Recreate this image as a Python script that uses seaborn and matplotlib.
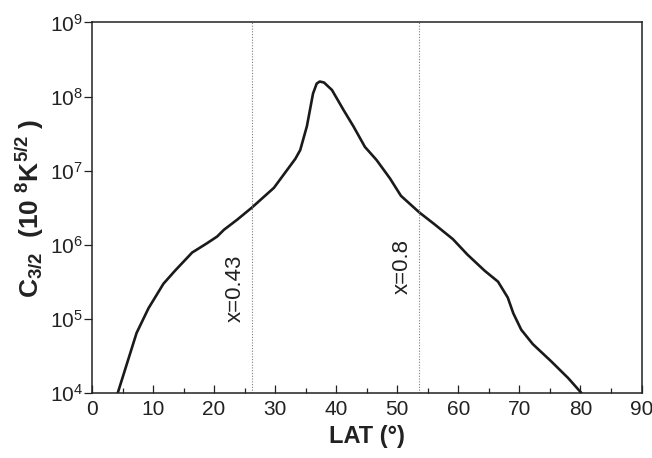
import matplotlib
matplotlib.use("Agg")
import matplotlib.pyplot as plt
import matplotlib.ticker as mticker
import seaborn as sns

# Latitude (deg) and C_{3/2} coefficient along the profile
lat = [4.2, 7.3, 9.25, 11.7, 13.6, 16.4, 18.8, 20.5, 21.6, 23.8, 26.2, 29.8,
       31.4, 33.3, 34.1, 35.2, 36.2, 36.8, 37.3, 38.0, 39.3, 41.2, 42.8, 44.7,
       46.6, 48.8, 50.6, 53.6, 56.1, 59.1, 61.5, 64.3, 66.5, 68.1, 69.0, 70.3,
       72.2, 75.2, 78.0, 80.2]
c32 = [1.0e4, 6.5e4, 1.4e5, 3.0e5, 4.5e5, 7.9e5, 1.05e6, 1.3e6, 1.6e6, 2.2e6,
       3.2e6, 5.9e6, 8.9e6, 1.45e7, 1.9e7, 4.0e7, 1.1e8, 1.5e8, 1.6e8, 1.55e8,
       1.23e8, 6.6e7, 4.0e7, 2.1e7, 1.4e7, 7.9e6, 4.6e6, 2.75e6, 1.9e6, 1.2e6,
       7.4e5, 4.5e5, 3.2e5, 1.95e5, 1.2e5, 7.2e4, 4.6e4, 2.7e4, 1.6e4, 1.0e4]

# Reference lines and their labels
ref_x = [26.2, 53.5]
ref_labels = ["x=0.43", "x=0.8"]
ref_label_y = [2.6e5, 5.1e5]

xticks = [0, 10, 20, 30, 40, 50, 60, 70, 80, 90]

sns.set_style("ticks")
plt.rcParams["font.family"] = ["Liberation Sans", "DejaVu Sans"]
plt.rcParams["mathtext.fontset"] = "custom"
plt.rcParams["mathtext.rm"] = "Liberation Sans"
plt.rcParams["mathtext.it"] = "Liberation Sans:italic"
plt.rcParams["mathtext.bf"] = "Liberation Sans:bold"

ink = "#222222"

fig = plt.figure(figsize=(6.52, 4.58), dpi=100)
ax = fig.add_axes([0.1411, 0.1413, 0.8428, 0.8096])
ax.set_yscale("log")

sns.lineplot(x=lat, y=c32, ax=ax, color="#1a1a1a", linewidth=1.9)
for ln in ax.get_lines():
    ln.set_solid_joinstyle("round")
    ln.set_solid_capstyle("round")

for xv, lab, ly in zip(ref_x, ref_labels, ref_label_y):
    ax.axvline(xv, color="#808080", linestyle=(0, (1, 1.5)), linewidth=0.8)
    ax.text(xv - 1.0, ly, lab, rotation=90, ha="right", va="center",
            fontsize=16, color=ink)

ax.set_xlim(0, 90)
ax.set_ylim(1e4, 1e9)
ax.set_xticks(xticks)
ax.xaxis.set_minor_locator(mticker.MultipleLocator(5))
ax.yaxis.set_major_locator(mticker.LogLocator(base=10, numticks=10))
ax.yaxis.set_minor_locator(mticker.NullLocator())

ax.tick_params(axis="x", which="major", direction="in", length=5.8, width=0.9,
               labelsize=15, pad=4.5, colors=ink)
ax.tick_params(axis="x", which="minor", direction="in", length=3.6, width=0.9,
               colors=ink)
ax.tick_params(axis="y", which="major", direction="out", length=5.5, width=0.9,
               labelsize=15, pad=1, colors=ink)

for sp in ax.spines.values():
    sp.set_linewidth(1.1)
    sp.set_color(ink)

ax.set_xlabel("LAT (°)", fontsize=17, fontweight="bold", labelpad=5,
              color=ink)
ax.set_ylabel(r"$\mathbf{C_{3/2}\ \ (10\ ^{8}K^{5/2}\ )}$", fontsize=19,
              labelpad=3, color=ink)

fig.savefig("out.png", dpi=100)
